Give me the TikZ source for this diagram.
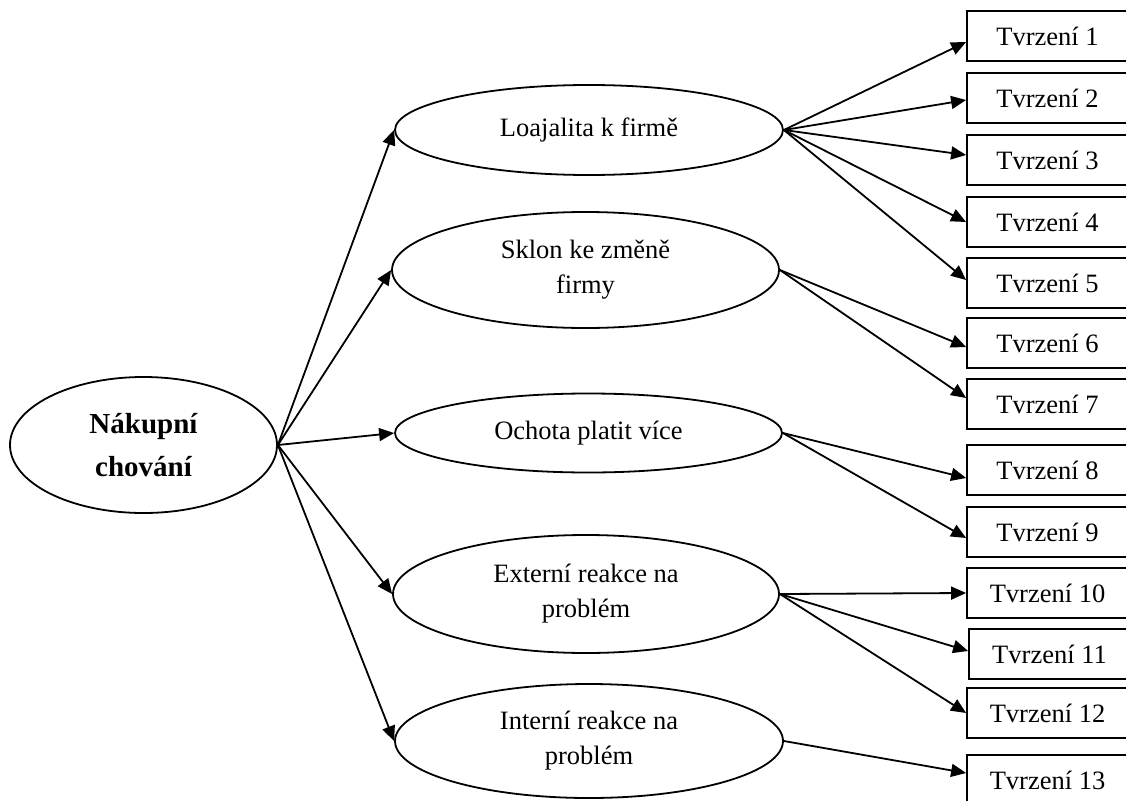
\documentclass[tikz,border=0pt]{standalone}
\usepackage{fontspec}
\setmainfont{Liberation Serif}
\usetikzlibrary{shapes.geometric,arrows.meta}
\begin{document}
\begin{tikzpicture}[x=1pt,y=-1pt,
  oval/.style={draw, ellipse, inner sep=0pt, align=center, line width=1.8pt,
    font=\fontsize{26.5}{35}\selectfont},
  rootoval/.style={oval, font=\fontsize{29}{43}\selectfont\bfseries},
  claim/.style={draw, rectangle, minimum width=161pt, minimum height=50pt,
    inner sep=0pt, line width=1.8pt, font=\fontsize{26.5}{32}\selectfont},
  link/.style={-{Triangle[length=15pt,width=13pt]}, line width=1.8pt}
]
\useasboundingbox (0,0) rectangle (1126,800);
\clip (0,0) rectangle (1126,800);

% root concept
\node[rootoval, minimum width=267pt, minimum height=136pt] (root) at (143.5,445) {Nákupní\\chování};

% dimensions
\node[oval, minimum width=388pt, minimum height=90pt]  (e1) at (589,130)   {Loajalita k firmě};
\node[oval, minimum width=387pt, minimum height=116pt] (e2) at (585.5,270) {Sklon ke změně\\firmy};
\node[oval, minimum width=387pt, minimum height=79pt]  (e3) at (588.5,433) {Ochota platit více};
\node[oval, minimum width=386pt, minimum height=118pt] (e4) at (586,594)   {Externí reakce na\\problém};
\node[oval, minimum width=388pt, minimum height=114pt] (e5) at (589,741)   {Interní reakce na\\problém};

% statements
\node[claim] (b1)  at (1047.5,36)  {Tvrzení 1};
\node[claim] (b2)  at (1047.5,98)  {Tvrzení 2};
\node[claim] (b3)  at (1047.5,160) {Tvrzení 3};
\node[claim] (b4)  at (1047.5,222) {Tvrzení 4};
\node[claim] (b5)  at (1047.5,283) {Tvrzení 5};
\node[claim] (b6)  at (1047.5,343) {Tvrzení 6};
\node[claim] (b7)  at (1047.5,404) {Tvrzení 7};
\node[claim] (b8)  at (1047.5,470) {Tvrzení 8};
\node[claim] (b9)  at (1047.5,532) {Tvrzení 9};
\node[claim] (b10) at (1047.5,593) {Tvrzení 10};
\node[claim] (b11) at (1049.5,654) {Tvrzení 11};
\node[claim] (b12) at (1047.5,713) {Tvrzení 12};
\node[claim] (b13) at (1047.5,780) {Tvrzení 13};

% root to dimensions
\foreach \e in {e1,e2,e3,e4,e5}
  \draw[link] (root.east) -- (\e.west);

% dimensions to statements
\draw[link] (e1.east) -- ([yshift=-6pt]b1.west);
\draw[link] (e1.east) -- ([yshift=-2pt]b2.west);
\draw[link] (e1.east) -- ([yshift=5pt]b3.west);
\draw[link] (e1.east) -- (b4.west);
\draw[link] (e1.east) -- ([yshift=3pt]b5.west);
\draw[link] (e2.east) -- ([yshift=-4pt]b6.west);
\draw[link] (e2.east) -- ([yshift=6pt]b7.west);
\draw[link] (e3.east) -- ([yshift=-8pt]b8.west);
\draw[link] (e3.east) -- ([yshift=-6pt]b9.west);
\draw[link] (e4.east) -- (b10.west);
\draw[link] (e4.east) -- ([yshift=3pt]b11.west);
\draw[link] (e4.east) -- (b12.west);
\draw[link] (e5.east) -- ([yshift=7pt]b13.west);
\end{tikzpicture}
\end{document}
